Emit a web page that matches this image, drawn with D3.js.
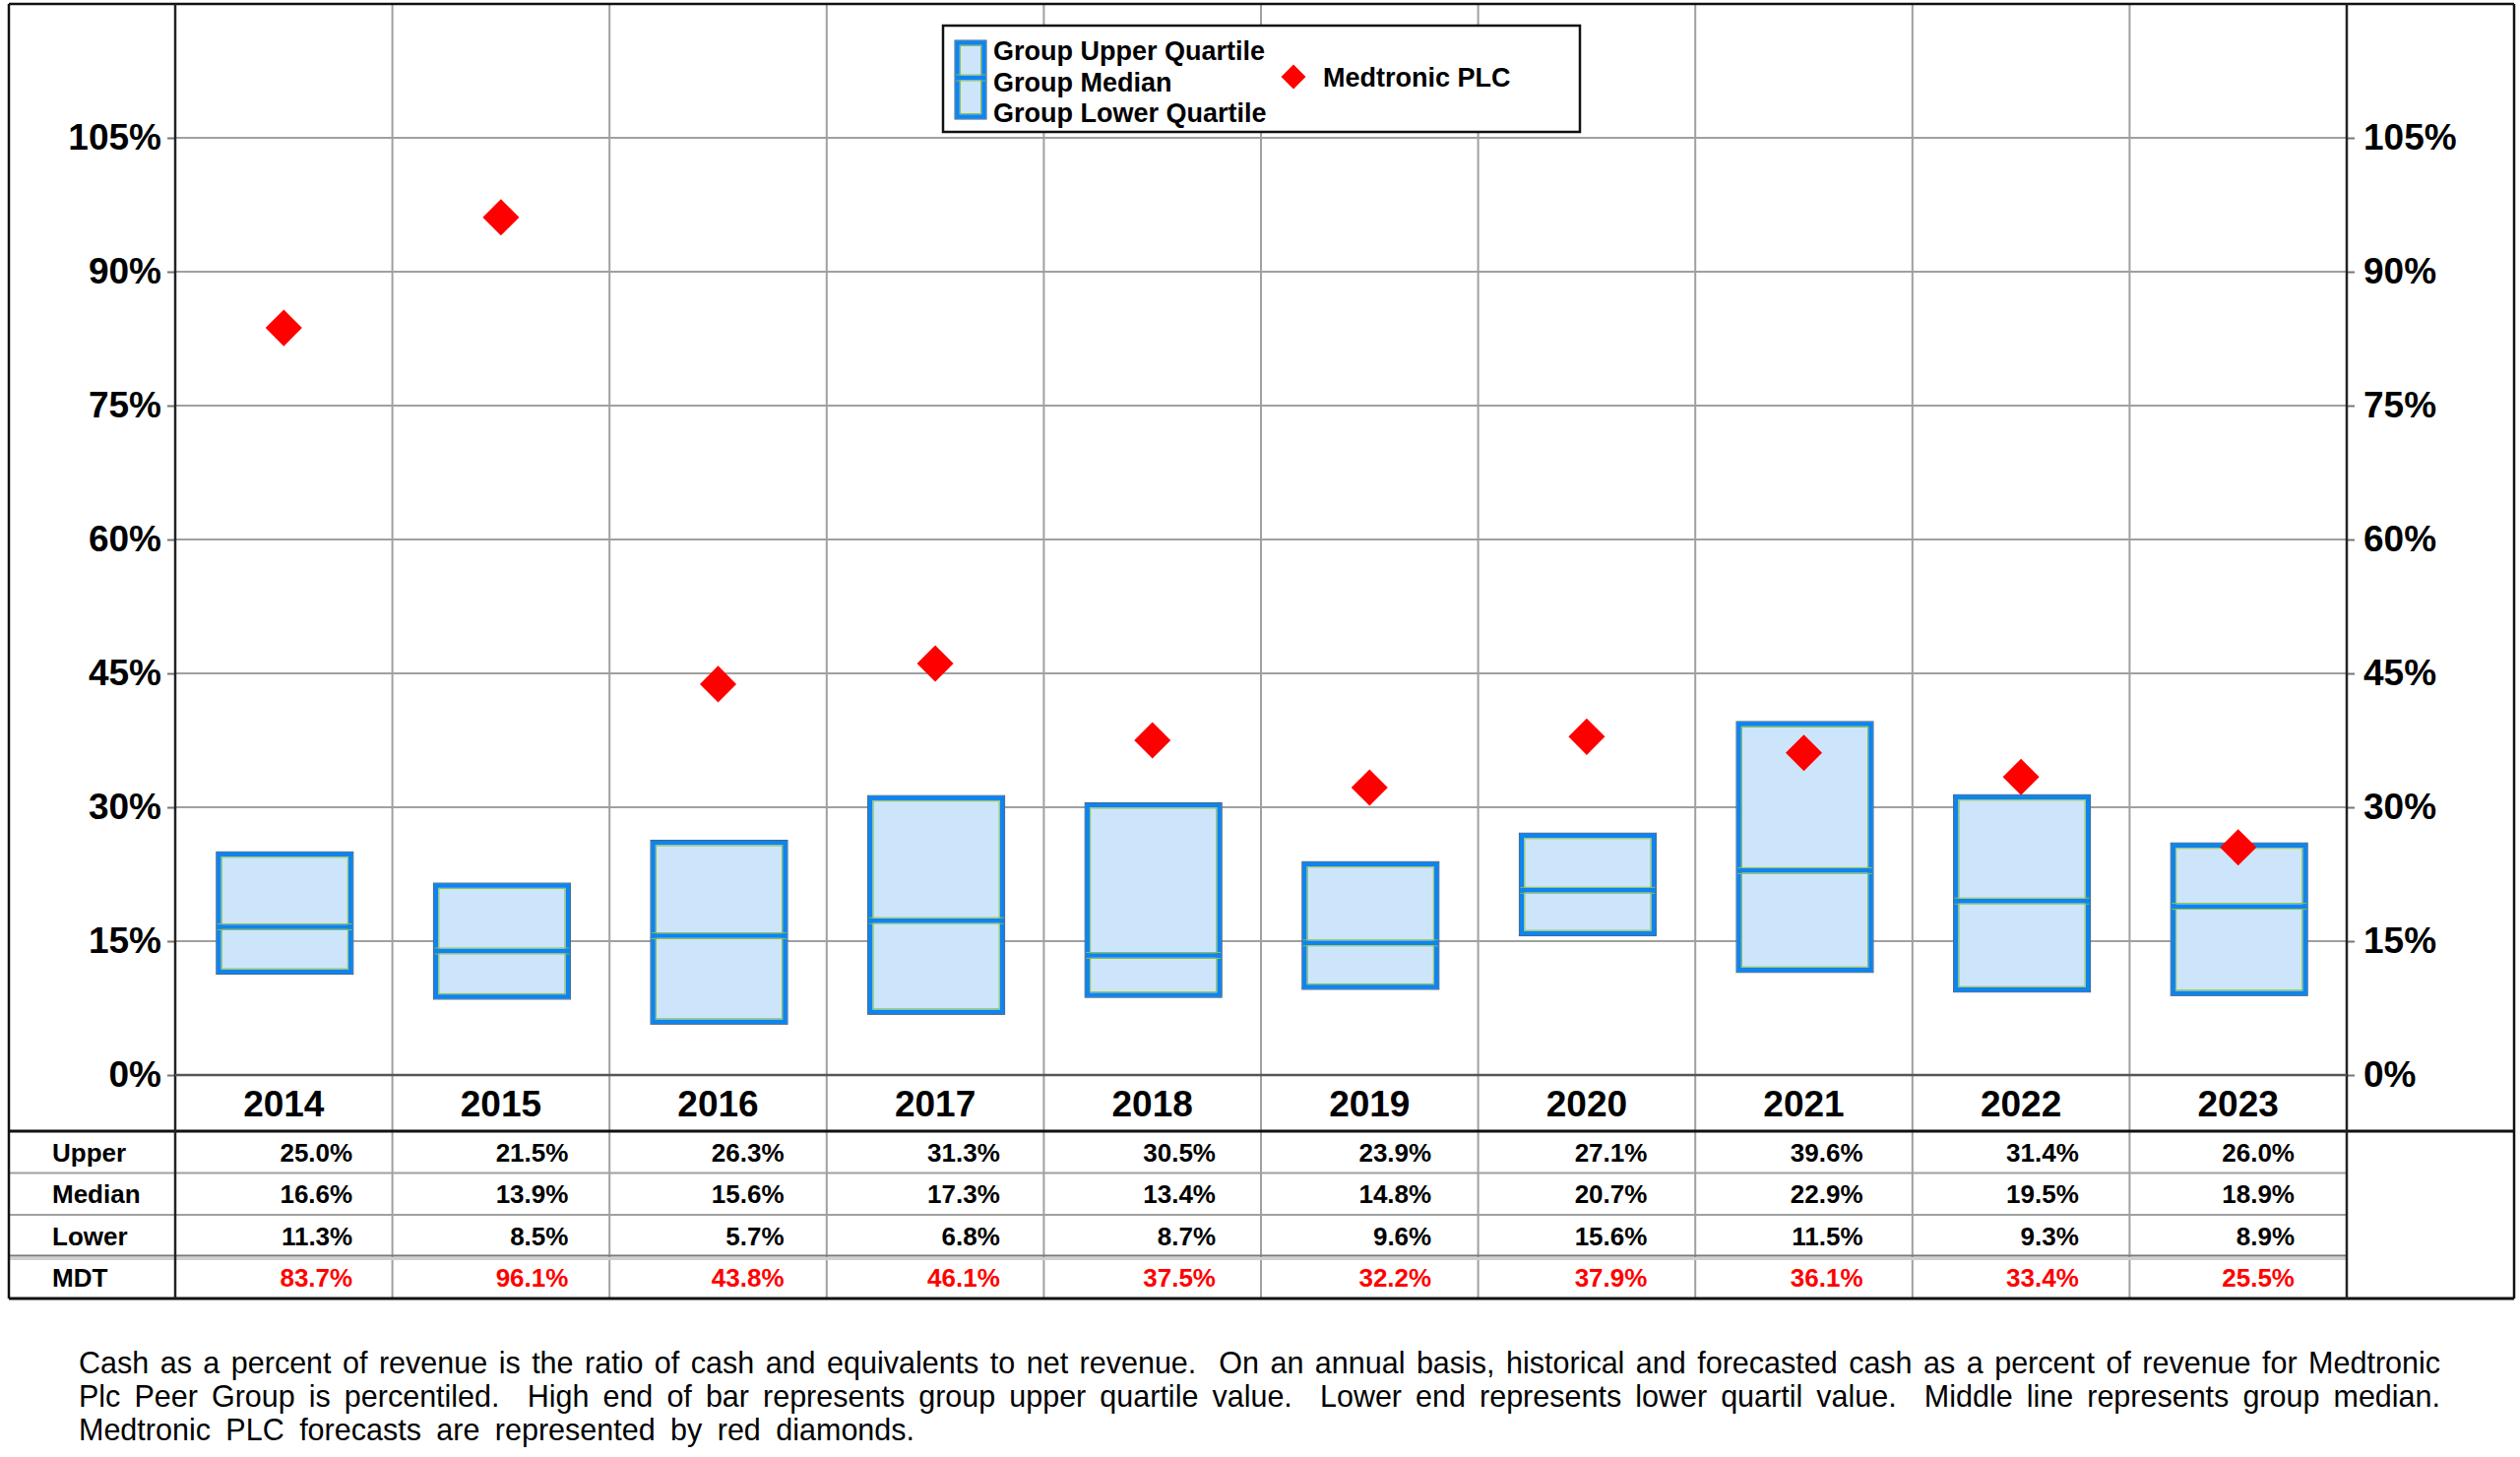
<!DOCTYPE html>
<html>
<head>
<meta charset="utf-8">
<script src="https://cdn.jsdelivr.net/npm/d3@7"></script>
<style>
  html, body { margin: 0; padding: 0; background: #fff; }
  svg { display: block; font-family: "Liberation Sans", Arial, Helvetica, sans-serif; }
</style>
</head>
<body>
<svg id="chart" width="2560" height="1480"></svg>
<script>
// ---- Data ----
const years  = ["2014","2015","2016","2017","2018","2019","2020","2021","2022","2023"];
const upper  = [25.0, 21.5, 26.3, 31.3, 30.5, 23.9, 27.1, 39.6, 31.4, 26.0];
const median = [16.6, 13.9, 15.6, 17.3, 13.4, 14.8, 20.7, 22.9, 19.5, 18.9];
const lower  = [11.3, 8.5, 5.7, 6.8, 8.7, 9.6, 15.6, 11.5, 9.3, 8.9];
const mdt    = [83.7, 96.1, 43.8, 46.1, 37.5, 32.2, 37.9, 36.1, 33.4, 25.5];
const yTicks = [0, 15, 30, 45, 60, 75, 90, 105];
const rowLabels = ["Upper", "Median", "Lower", "MDT"];
const legendLabels = ["Group Upper Quartile", "Group Median", "Group Lower Quartile"];
const companyName = "Medtronic PLC";
const footnote = [
  "Cash as a percent of revenue is the ratio of cash and equivalents to net revenue.  On an annual basis, historical and forecasted cash as a percent of revenue for Medtronic",
  "Plc Peer Group is percentiled.  High end of bar represents group upper quartile value.  Lower end represents lower quartil value.  Middle line represents group median.",
  "Medtronic PLC forecasts are represented by red diamonds."
];

// ---- Layout ----
const svg = d3.select("#chart");
const W = 2560, H = 1480;
const outerL = 9, outerR = 2554, outerT = 4;
const plotL = 178, plotR = 2384, plotB = 1092;
const headerB = 1149, rowH = 42.5, tableB = 1319;

const BLUE = "#0f84ee", GREEN = "#8cbf45", FILL = "#cde5fb", GRID = "#a0a0a0", RED = "#ff0000";

svg.append("rect").attr("width", W).attr("height", H).attr("fill", "#fff");

const x = d3.scaleBand().domain(years).range([plotL, plotR]).padding(0);
const xt = d3.scaleBand().domain(years).range([plotL, plotR - 14]).padding(0);
const y = d3.scaleLinear().domain([0, 120]).range([plotB, outerT]);
const bw = x.bandwidth();
const boxW = bw * 0.63;

// horizontal gridlines
svg.append("g").selectAll("line").data(yTicks.filter(d => d > 0)).join("line")
  .attr("x1", plotL).attr("x2", plotR)
  .attr("y1", d => y(d)).attr("y2", d => y(d))
  .attr("stroke", GRID).attr("stroke-width", 2);

// vertical gridlines (through the table)
svg.append("g").selectAll("line").data(years.slice(1)).join("line")
  .attr("x1", d => x(d)).attr("x2", d => x(d))
  .attr("y1", outerT).attr("y2", tableB)
  .attr("stroke", GRID).attr("stroke-width", 2);

// table row lines
const rowTops = [headerB, headerB + rowH, headerB + 2 * rowH, headerB + 3 * rowH];
svg.append("line").attr("x1", outerL).attr("x2", plotR).attr("y1", rowTops[1]).attr("y2", rowTops[1]).attr("stroke", GRID).attr("stroke-width", 2);
svg.append("line").attr("x1", outerL).attr("x2", plotR).attr("y1", rowTops[2]).attr("y2", rowTops[2]).attr("stroke", GRID).attr("stroke-width", 2);
svg.append("line").attr("x1", outerL).attr("x2", plotR).attr("y1", rowTops[3] - 1).attr("y2", rowTops[3] - 1).attr("stroke", "#7a7a7a").attr("stroke-width", 2);
svg.append("line").attr("x1", outerL).attr("x2", plotR).attr("y1", rowTops[3] + 2).attr("y2", rowTops[3] + 2).attr("stroke", "#cfcfcf").attr("stroke-width", 3);

// header bottom, table bottom
svg.append("line").attr("x1", outerL).attr("x2", outerR).attr("y1", headerB).attr("y2", headerB).attr("stroke", "#111").attr("stroke-width", 3);
svg.append("line").attr("x1", outerL).attr("x2", outerR).attr("y1", tableB).attr("y2", tableB).attr("stroke", "#111").attr("stroke-width", 3);

// outer border
svg.append("line").attr("x1", outerL).attr("x2", outerR).attr("y1", outerT).attr("y2", outerT).attr("stroke", "#111").attr("stroke-width", 2.5);
svg.append("line").attr("x1", outerL).attr("x2", outerL).attr("y1", outerT).attr("y2", tableB).attr("stroke", "#111").attr("stroke-width", 2.5);
svg.append("line").attr("x1", outerR).attr("x2", outerR).attr("y1", outerT).attr("y2", tableB).attr("stroke", "#111").attr("stroke-width", 2.5);

// axes
const fmt = d => d + "%";
const axL = svg.append("g").attr("transform", `translate(${plotL},0)`)
  .call(d3.axisLeft(y).tickValues(yTicks).tickFormat(fmt).tickSize(8).tickPadding(6));
const axR = svg.append("g").attr("transform", `translate(${plotR},0)`)
  .call(d3.axisRight(y).tickValues(yTicks).tickFormat(fmt).tickSize(8).tickPadding(9));
[axL, axR].forEach(g => {
  g.select(".domain").attr("stroke", "#222").attr("stroke-width", 2.5).attr("d", null);
  g.selectAll(".tick line").attr("stroke", "#777").attr("stroke-width", 2);
  g.selectAll(".tick text").attr("font-size", 37).attr("font-weight", "bold").attr("fill", "#000")
    .attr("font-family", "'Liberation Sans', Arial, sans-serif");
});
// vertical axis lines through table
svg.append("line").attr("x1", plotL).attr("x2", plotL).attr("y1", outerT).attr("y2", tableB).attr("stroke", "#222").attr("stroke-width", 2.5);
svg.append("line").attr("x1", plotR).attr("x2", plotR).attr("y1", outerT).attr("y2", tableB).attr("stroke", "#222").attr("stroke-width", 2.5);
// zero baseline
svg.append("line").attr("x1", plotL).attr("x2", plotR).attr("y1", y(0)).attr("y2", y(0)).attr("stroke", "#555").attr("stroke-width", 2.5);

// ---- boxes ----
const data = years.map((yr, i) => ({ yr, u: upper[i], m: median[i], l: lower[i], v: mdt[i] }));

function drawBox(g, x0, w, yTop, yBot, yMed) {
  g.append("rect").attr("x", x0).attr("y", yTop).attr("width", w).attr("height", yBot - yTop)
    .attr("fill", FILL).attr("stroke", "#4a5a6a").attr("stroke-width", 1);
  g.append("rect").attr("x", x0 + 2.5).attr("y", yTop + 2.5).attr("width", w - 5).attr("height", yBot - yTop - 5)
    .attr("fill", "none").attr("stroke", BLUE).attr("stroke-width", 4.5);
  g.append("rect").attr("x", x0 + 5.5).attr("y", yTop + 5.5).attr("width", w - 11).attr("height", yBot - yTop - 11)
    .attr("fill", "none").attr("stroke", GREEN).attr("stroke-width", 1);
  g.append("line").attr("x1", x0 + 1).attr("x2", x0 + w - 1).attr("y1", yMed - 3).attr("y2", yMed - 3)
    .attr("stroke", GREEN).attr("stroke-width", 1);
  g.append("line").attr("x1", x0 + 1).attr("x2", x0 + w - 1).attr("y1", yMed + 3).attr("y2", yMed + 3)
    .attr("stroke", GREEN).attr("stroke-width", 1);
  g.append("line").attr("x1", x0 + 1).attr("x2", x0 + w - 1).attr("y1", yMed).attr("y2", yMed)
    .attr("stroke", BLUE).attr("stroke-width", 4.5);
}

const boxes = svg.append("g");
data.forEach(d => {
  const cx = x(d.yr) + bw / 2;
  drawBox(boxes.append("g"), cx - boxW / 2 + 1, boxW, y(d.u), y(d.l), y(d.m));
});

// diamonds
const diamond = d3.symbol(d3.symbolSquare, 26.2 * 26.2);
svg.append("g").selectAll("path").data(data).join("path")
  .attr("d", diamond)
  .attr("transform", d => `translate(${x(d.yr) + bw / 2},${y(d.v)}) rotate(45)`)
  .attr("fill", RED);

// ---- header row: years ----
svg.append("g").selectAll("text").data(years).join("text")
  .attr("x", d => x(d) + bw / 2).attr("y", 1121).attr("dy", "0.35em")
  .attr("text-anchor", "middle").attr("font-size", 37).attr("font-weight", "bold").text(d => d);

// ---- table ----
const rows = [upper, median, lower, mdt];
rows.forEach((arr, r) => {
  const cy = rowTops[r] + rowH / 2;
  svg.append("text").attr("x", 53).attr("y", cy).attr("dy", "0.36em")
    .attr("font-size", 26).attr("font-weight", "bold").text(rowLabels[r]);
  svg.append("g").selectAll("text").data(arr).join("text")
    .attr("x", (d, i) => xt(years[i]) + xt.bandwidth() - 39).attr("y", cy).attr("dy", "0.36em")
    .attr("text-anchor", "end").attr("font-size", 26).attr("font-weight", "bold")
    .attr("fill", r === 3 ? RED : "#000")
    .text(d => d.toFixed(1) + "%");
});

// ---- legend ----
const lg = svg.append("g");
lg.append("rect").attr("x", 958).attr("y", 26).attr("width", 647).attr("height", 108)
  .attr("fill", "#fff").attr("stroke", "#111").attr("stroke-width", 2.5);
drawBox(lg.append("g"), 970, 32, 41, 121, 79);
const legY = [51, 83, 114];
lg.selectAll("text.lab").data(legendLabels).join("text").attr("class", "lab")
  .attr("x", 1009).attr("y", (d, i) => legY[i]).attr("dy", "0.36em")
  .attr("font-size", 27).attr("font-weight", "bold").text(d => d);
lg.append("path").attr("d", d3.symbol(d3.symbolSquare, 17.7 * 17.7))
  .attr("transform", "translate(1314,78) rotate(45)").attr("fill", RED);
lg.append("text").attr("x", 1344).attr("y", 78).attr("dy", "0.36em")
  .attr("font-size", 27).attr("font-weight", "bold").text(companyName);

// ---- footnote ----
const fnX = 80, fnEnds = [2479, 2479, 929], fnBase = [1395, 1429, 1463];
footnote.forEach((line, i) => {
  const t = svg.append("text").attr("x", fnX).attr("y", fnBase[i])
    .attr("font-size", 30.5).attr("fill", "#000").style("white-space", "pre").text(line);
  const len = t.node().getComputedTextLength();
  const spaces = (line.match(/ /g) || []).length;
  t.attr("word-spacing", Math.max(0, (fnEnds[i] - fnX - len) / spaces));
});
</script>
</body>
</html>
